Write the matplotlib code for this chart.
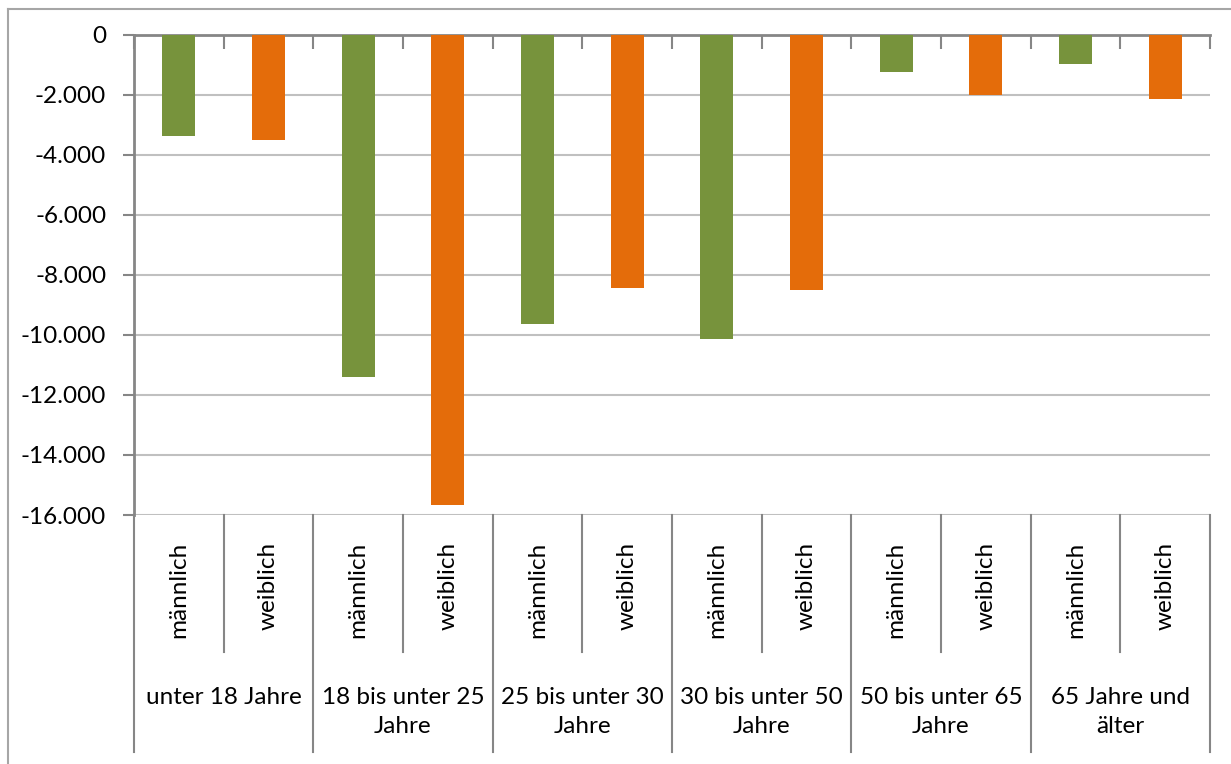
import numpy as np
import matplotlib
matplotlib.use("Agg")
import matplotlib.pyplot as plt
from matplotlib.lines import Line2D
from matplotlib.ticker import FuncFormatter

# data
groups = ["unter 18 Jahre", "18 bis unter 25\nJahre", "25 bis unter 30\nJahre",
          "30 bis unter 50\nJahre", "50 bis unter 65\nJahre", "65 Jahre und\nälter"]
sexes = ["männlich", "weiblich"]
maennlich = [-3380, -11390, -9650, -10130, -1250, -970]
weiblich = [-3510, -15680, -8450, -8500, -2000, -2140]
y_ticks = list(range(0, -16001, -2000))

GREEN = "#77933C"
ORANGE = "#E46C0A"
AXIS = "#868686"
GRID = "#C0C0C0"
FONT = ["Lato", "DejaVu Sans"]
FS = 17.5

plt.rcParams["font.family"] = FONT

W, H = 1231, 764
fig = plt.figure(figsize=(W / 100, H / 100), dpi=100)

# plot area in pixels
left, right, top, bottom = 134, 1210, 34.5, 515
ax = fig.add_axes([left / W, 1 - bottom / H, (right - left) / W, (bottom - top) / H])

n = len(groups)
values = []
colors = []
for m, w in zip(maennlich, weiblich):
    values += [m, w]
    colors += [GREEN, ORANGE]
x = np.arange(2 * n)
ax.bar(x, values, width=0.37, color=colors, zorder=3)

ax.set_xlim(-0.5, 2 * n - 0.5)
ax.set_ylim(-16000, 0)
ax.set_yticks(y_ticks)
ax.yaxis.set_major_formatter(FuncFormatter(lambda v, p: f"{int(v):,}".replace(",", ".")))
ax.tick_params(axis="y", length=8, width=1.5, color=AXIS, pad=12, labelsize=FS)
ax.grid(axis="y", color=GRID, linewidth=1.5, zorder=0)
ax.set_axisbelow(True)

# zero line on top with downward ticks at slot boundaries
ax.set_xticks(np.arange(-0.5, 2 * n, 1.0))
ax.xaxis.tick_top()
ax.tick_params(axis="x", direction="in", length=10, width=1.5, color=AXIS, labeltop=False)
for s in ["right", "bottom"]:
    ax.spines[s].set_visible(False)
ax.spines["top"].set_color(AXIS)
ax.spines["top"].set_linewidth(2)
ax.spines["left"].set_color(AXIS)
ax.spines["left"].set_linewidth(2)

# multi-level category axis below the plot
def yax(py):
    return (bottom - py) / (bottom - top)

trans = ax.get_xaxis_transform()
for i in range(2 * n + 1):
    xb = i - 0.5
    low = 752 if i % 2 == 0 else 652
    ax.add_line(Line2D([xb, xb], [0, yax(low)], transform=trans, color=AXIS,
                       linewidth=1.5, clip_on=False))
for i in range(2 * n):
    ax.text(i, yax(542), sexes[i % 2], transform=trans, rotation=90,
            ha="center", va="top", fontsize=FS)
for g, label in enumerate(groups):
    ax.text(2 * g + 0.5, yax(687), label, transform=trans, ha="center", va="top",
            fontsize=FS, linespacing=1.45)

# outer chart border (partly cut off in the picture)
fig.add_artist(Line2D([8 / W, 8 / W], [0, 1 - 9 / H], transform=fig.transFigure,
                      color="#A6A6A6", linewidth=1.5))
fig.add_artist(Line2D([8 / W, 1], [1 - 9 / H, 1 - 9 / H], transform=fig.transFigure,
                      color="#A6A6A6", linewidth=1.5))

fig.savefig("out.png", dpi=100)
